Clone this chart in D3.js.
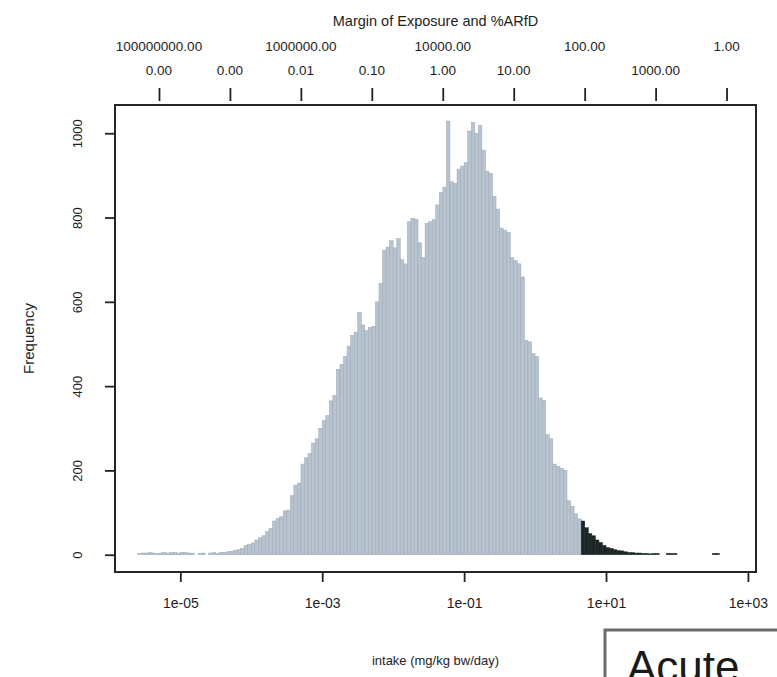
<!DOCTYPE html>
<html>
<head>
<meta charset="utf-8">
<script src="https://cdn.jsdelivr.net/npm/d3@7"></script>
<style>
  body { margin: 0; background: #fff; }
  text { font-family: "Liberation Sans", Arial, sans-serif; fill: #1e1e1e; }
</style>
</head>
<body>
<div id="chart"></div>
<script>
// Chart Params
var svgWidth = 777;
var svgHeight = 677;
var margin = { top: 105, right: 21, bottom: 105, left: 115 };
var width = svgWidth - margin.left - margin.right;
var height = svgHeight - margin.top - margin.bottom;

// histogram of log10(intake): first break and bin width (in log10 units)
var binStart = -5.6;
var binWidth = 0.05;
var counts = [
  3, 4, 4, 5, 4, 3, 4, 5, 4, 5,
  5, 4, 6, 5, 4, 3, 0, 3, 4, 0,
  4, 5, 3, 6, 5, 7, 8, 10, 12, 15,
  22, 25, 28, 35, 40, 45, 55, 62, 80, 86,
  90, 104, 106, 140, 165, 170, 215, 230, 240, 265,
  275, 300, 318, 330, 365, 378, 440, 452, 470, 495,
  520, 528, 575, 545, 532, 539, 542, 600, 644, 722,
  730, 745, 728, 750, 700, 690, 790, 798, 796, 740,
  705, 786, 790, 795, 830, 860, 872, 1029, 885, 881,
  915, 922, 930, 1005, 1026, 1000, 1018, 960, 910, 905,
  850, 820, 775, 770, 765, 705, 698, 690, 659, 508,
  505, 477, 470, 372, 366, 285, 275, 215, 210, 205,
  200, 128, 115, 97, 85, 80, 64, 50, 45, 35,
  29, 22, 17, 15, 12, 10, 9, 7, 5, 5,
  4, 4, 3, 3, 2, 3, 3, 0, 0, 3,
  3, 3, 0, 0, 0, 0, 0, 0, 0, 0,
  0, 0, 3, 3
];
var exceedFrom = 4;   // mg/kg bw/day, bins from here on are drawn dark
var ARfD = 5;         // mg/kg bw/day, 100 %ARfD

var intakeTicks = [1e-5, 1e-3, 1e-1, 1e1, 1e3];
var freqTicks = [0, 200, 400, 600, 800, 1000];
var pctTicks = [1e-4, 1e-3, 1e-2, 1e-1, 1, 10, 100, 1000, 1e4];
var pctLabels = [1e-4, 1e-3, 1e-2, 1e-1, 1, 10, 1000];
var moeLabels = [1e-4, 1e-2, 1, 100, 1e4];

var svg = d3.select("#chart")
  .append("svg")
  .attr("width", svgWidth)
  .attr("height", svgHeight);

var chartGroup = svg.append("g")
  .attr("transform", `translate(${margin.left}, ${margin.top})`);

var xScale = d3.scaleLog()
  .domain([1.2e-6, 1.3e3])
  .range([0, width]);

var yScale = d3.scaleLinear()
  .domain([-41, 1067])
  .range([height, 0]);

// %ARfD scale on top, same pixels as intake
var pctScale = d3.scaleLog()
  .domain(xScale.domain().map(d => d / ARfD * 100))
  .range([0, width]);

function rExp(v) {
  var e = Math.round(Math.log10(v));
  return "1e" + (e < 0 ? "-" : "+") + String(Math.abs(e)).padStart(2, "0");
}

// bars
var bins = counts.map((c, i) => ({
  lo: Math.pow(10, binStart + i * binWidth),
  hi: Math.pow(10, binStart + (i + 1) * binWidth),
  n: c
})).filter(d => d.n > 0);

chartGroup.selectAll("rect.bar").data(bins)
  .enter()
  .append("rect")
  .attr("class", "bar")
  .attr("x", d => xScale(d.lo))
  .attr("width", d => xScale(d.hi) - xScale(d.lo))
  .attr("y", d => yScale(d.n))
  .attr("height", d => yScale(0) - yScale(d.n))
  .attr("fill", d => d.lo >= exceedFrom * 0.999 ? "#1c2626" : "#b7c3cf")
  .attr("stroke", d => d.lo >= exceedFrom * 0.999 ? "#1c2626" : "#9ca8b4")
  .attr("stroke-width", 0.5);

// box
chartGroup.append("rect")
  .attr("width", width)
  .attr("height", height)
  .attr("fill", "none")
  .attr("stroke", "#262626")
  .attr("stroke-width", 2);

// bottom axis
var bottomAxis = d3.axisBottom(xScale)
  .tickValues(intakeTicks)
  .tickFormat(rExp)
  .tickSize(10)
  .tickPadding(16);

var xAxis = chartGroup.append("g")
  .attr("transform", `translate(0, ${height})`)
  .call(bottomAxis);
xAxis.select(".domain").remove();
xAxis.selectAll("line").attr("stroke", "#222").attr("stroke-width", 1.8);
xAxis.selectAll("text").style("font-size", "14px").style("font-family", null);

// left axis
var leftAxis = d3.axisLeft(yScale)
  .tickValues(freqTicks)
  .tickFormat(d3.format("d"))
  .tickSize(10);

var yAxis = chartGroup.append("g").call(leftAxis);
yAxis.select(".domain").remove();
yAxis.selectAll("line").attr("stroke", "#222").attr("stroke-width", 1.8);
yAxis.selectAll("text")
  .attr("transform", "rotate(-90)")
  .attr("x", 0)
  .attr("y", -33)
  .attr("dy", 0)
  .style("text-anchor", "middle")
  .style("font-size", "13px")
  .style("font-family", null);

// top axis: ticks only, labels in two rows
var topAxis = d3.axisTop(pctScale)
  .tickValues(pctTicks)
  .tickFormat("")
  .tickSize(13);

var tAxis = chartGroup.append("g")
  .attr("transform", "translate(0, -4)")
  .call(topAxis);
tAxis.select(".domain").remove();
tAxis.selectAll("line").attr("stroke", "#222").attr("stroke-width", 1.8);

chartGroup.append("g").selectAll("text").data(pctLabels)
  .enter()
  .append("text")
  .attr("x", d => pctScale(d))
  .attr("y", -35)
  .attr("dy", "0.35em")
  .attr("text-anchor", "middle")
  .style("font-size", "13.5px")
  .text(d => d.toFixed(2));

chartGroup.append("g").selectAll("text").data(moeLabels)
  .enter()
  .append("text")
  .attr("x", d => pctScale(d))
  .attr("y", -59)
  .attr("dy", "0.35em")
  .attr("text-anchor", "middle")
  .style("font-size", "13.5px")
  .text(d => (1e4 / d).toFixed(2));

chartGroup.append("text")
  .attr("x", width / 2)
  .attr("y", -84)
  .attr("dy", "0.35em")
  .attr("text-anchor", "middle")
  .style("font-size", "14.5px")
  .text("Margin of Exposure and %ARfD");

// axis titles
chartGroup.append("text")
  .attr("x", width / 2)
  .attr("y", height + 93)
  .attr("text-anchor", "middle")
  .style("font-size", "13px")
  .text("intake (mg/kg bw/day)");

chartGroup.append("text")
  .attr("transform", "rotate(-90)")
  .attr("x", -height / 2)
  .attr("y", -81)
  .attr("text-anchor", "middle")
  .style("font-size", "15px")
  .text("Frequency");

// "Acute" label box in the corner
var acute = svg.append("g").attr("transform", "translate(605, 630)");
acute.append("rect")
  .attr("width", 200)
  .attr("height", 80)
  .attr("fill", "#fff")
  .attr("stroke", "#6b6b6b")
  .attr("stroke-width", 3);
acute.append("text")
  .attr("x", 22)
  .attr("y", 52)
  .style("font-size", "44px")
  .style("fill", "#1a1a1a")
  .text("Acute");
</script>
</body>
</html>
